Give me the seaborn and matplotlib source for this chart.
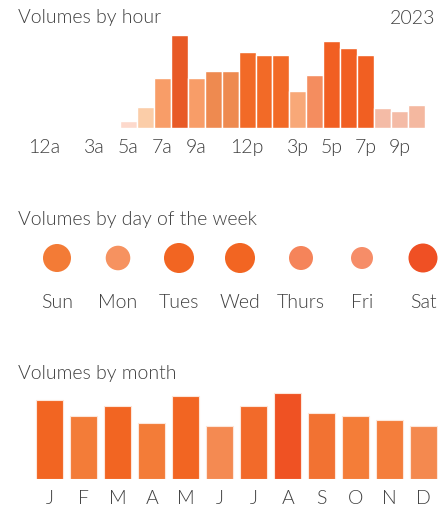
import pandas as pd
import matplotlib
matplotlib.use("Agg")
import matplotlib.pyplot as plt
import seaborn as sns

# Volumes by hour (hours 5a..10p, no traffic before 5a)
hours = [5, 6, 7, 8, 9, 10, 11, 12, 13, 14, 15, 16, 17, 18, 19, 20, 21, 22]
hour_volumes = [7, 21, 50, 93, 50, 57, 57, 76, 73, 73, 37, 53, 87, 80, 73, 20, 17, 23]
hour_ticks = [0, 3, 5, 7, 9, 12, 15, 17, 19, 21]
hour_tick_labels = ["12a", "3a", "5a", "7a", "9a", "12p", "3p", "5p", "7p", "9p"]
hour_colors = ["#fdd9cc", "#fbcda8", "#f89d68", "#e85a26", "#f89d68", "#ee8a50",
               "#ee8a50", "#f26a27", "#f26a27", "#f26a27", "#f8a878", "#f48d5f",
               "#f15f22", "#f15f22", "#f15f22", "#f4bba6", "#f4bba6", "#f4b8a0"]

# Volumes by day of the week
days = ["Sun", "Mon", "Tues", "Wed", "Thurs", "Fri", "Sat"]
day_volumes = [196, 151, 225, 225, 144, 121, 210]
day_colors = ["#f37b36", "#f69260", "#f26522", "#f26522", "#f5845a", "#f68d68", "#ef5024"]

# Volumes by month
months = ["Jan", "Feb", "Mar", "Apr", "May", "Jun", "Jul", "Aug", "Sep", "Oct", "Nov", "Dec"]
month_labels = ["J", "F", "M", "A", "M", "J", "J", "A", "S", "O", "N", "D"]
month_volumes = [79, 63, 73, 56, 83, 53, 73, 86, 66, 63, 59, 53]
month_colors = ["#f26522", "#f37c38", "#f26522", "#f37c38", "#f26522", "#f48a52",
                "#f26a2a", "#ef5223", "#f27232", "#f47d38", "#f47e3c", "#f4894f"]

sns.set_style("white")
plt.rcParams["font.family"] = ["Lato", "DejaVu Sans"]
plt.rcParams["font.weight"] = 300
text_color = "#3f3f3f"
fs = 14

W, H = 439, 509
fig = plt.figure(figsize=(W / 100, H / 100), dpi=100)


def px_axes(left, top, width, height):
    # axes placed in pixel coordinates, measured from the top-left corner
    return fig.add_axes([left / W, 1 - (top + height) / H, width / W, height / H])


def clean(ax):
    for s in ax.spines.values():
        s.set_visible(False)
    ax.set_xlabel("")
    ax.set_ylabel("")
    ax.set_yticks([])
    ax.tick_params(axis="x", length=0, labelsize=fs, labelcolor=text_color)


# --- hour chart ---
hour_step = 16.94
ax1 = px_axes(35.3, 28.3, W - 35.3, 100)
hour_df = pd.DataFrame({"hour": hours, "volume": hour_volumes})
sns.barplot(data=hour_df, x="hour", y="volume", native_scale=True, width=1,
            color=hour_colors[0], edgecolor="white", linewidth=1, ax=ax1)
for patch, c in zip(ax1.patches, hour_colors):
    patch.set_facecolor(c)
ax1.set_xlim(-0.5, -0.5 + (W - 35.3) / hour_step)
ax1.set_ylim(0, 100)
ax1.set_xticks(hour_ticks)
ax1.set_xticklabels(hour_tick_labels)
clean(ax1)
ax1.tick_params(axis="x", pad=8)

# --- day chart ---
ax2 = px_axes(0, 236, W, 44)
day_df = pd.DataFrame({"day": days, "volume": day_volumes, "row": [0] * len(days)})
sns.scatterplot(data=day_df, x="day", y="row", size="volume", sizes=(251, 467),
                hue="day", palette=day_colors, linewidth=0, legend=False, ax=ax2)
ax2.set_xlim(-57 / 61, (W - 57) / 61)
ax2.set_ylim(-1, 1)
clean(ax2)
ax2.tick_params(axis="x", pad=10)

# --- month chart ---
ax3 = px_axes(0, 379.3, W, 100)
month_df = pd.DataFrame({"month": months, "volume": month_volumes})
sns.barplot(data=month_df, x="month", y="volume", hue="month", palette=month_colors,
            saturation=1, width=0.8, edgecolor="#fde6da", linewidth=0.8,
            legend=False, ax=ax3)
ax3.set_xlim(-49.7 / 34, (W - 49.7) / 34)
ax3.set_ylim(0, 100)
ax3.set_xticks(range(len(months)))
ax3.set_xticklabels(month_labels)
clean(ax3)
ax3.tick_params(axis="x", pad=8)

# --- titles ---
fig.text(18 / W, 1 - 18 / H, "Volumes by hour", fontsize=fs, color=text_color, va="center")
fig.text(435 / W, 1 - 18 / H, "2023", fontsize=fs, color=text_color, va="center", ha="right")
fig.text(18 / W, 1 - 219 / H, "Volumes by day of the week", fontsize=fs, color=text_color, va="center")
fig.text(18 / W, 1 - 373 / H, "Volumes by month", fontsize=fs, color=text_color, va="center")

fig.savefig("out.png", dpi=100)
